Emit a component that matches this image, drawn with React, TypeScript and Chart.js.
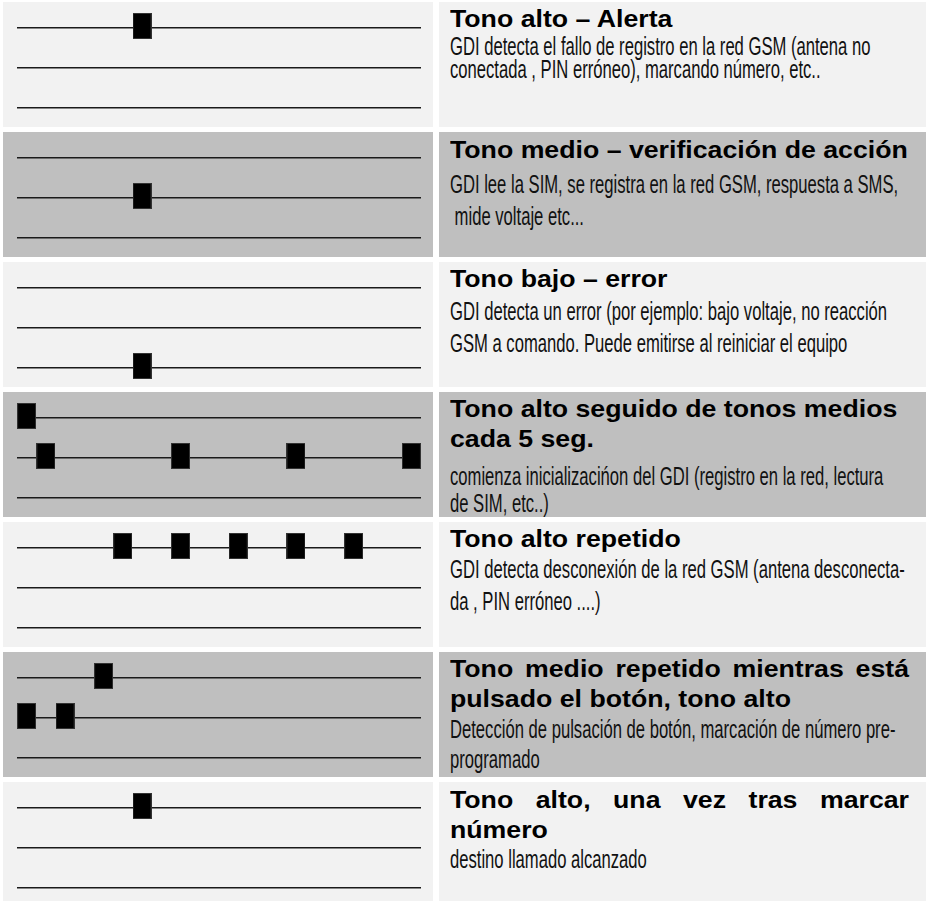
import React, { useEffect, useRef } from "react";
import { Chart, registerables } from "chart.js";

Chart.register(...registerables);

// ---- data ----
// tone levels: 1 = bajo, 2 = medio, 3 = alto
const LEVELS = [1, 2, 3];
// time slots (0..20) along each staff
const SLOT_MIN = 0;
const SLOT_MAX = 20;

const TONE_SLOTS_1 = [6];
const TONE_LEVELS_1 = [3];
const TONE_SLOTS_2 = [6];
const TONE_LEVELS_2 = [2];
const TONE_SLOTS_3 = [6];
const TONE_LEVELS_3 = [1];
const TONE_SLOTS_4 = [0, 1, 8, 14, 20];
const TONE_LEVELS_4 = [3, 2, 2, 2, 2];
const TONE_SLOTS_5 = [5, 8, 11, 14, 17];
const TONE_LEVELS_5 = [3, 3, 3, 3, 3];
const TONE_SLOTS_6 = [0, 2, 4];
const TONE_LEVELS_6 = [2, 2, 3];
const TONE_SLOTS_7 = [6];
const TONE_LEVELS_7 = [3];

const TITLES_1 = ["Tono alto – Alerta"];
const TITLES_2 = ["Tono medio – verificación de acción"];
const TITLES_3 = ["Tono bajo – error"];
const TITLES_4 = ["Tono alto seguido de tonos medios", "cada 5 seg."];
const TITLES_5 = ["Tono alto repetido"];
const TITLES_6 = ["Tono medio repetido mientras está", "pulsado el botón, tono alto"];
const TITLES_7 = ["Tono alto, una vez tras marcar", "número"];

const TEXT_1 = [
  "GDI detecta el fallo de registro en la red GSM (antena no",
  "conectada , PIN erróneo), marcando número, etc..",
];
const TEXT_2 = [
  "GDI lee la SIM, se registra en la red GSM, respuesta a SMS,",
  " mide voltaje etc...",
];
const TEXT_3 = [
  "GDI detecta un error (por ejemplo: bajo voltaje, no reacción",
  "GSM a comando. Puede emitirse al reiniciar el equipo",
];
const TEXT_4 = [
  "comienza inicializacińon del GDI (registro en la red, lectura",
  "de SIM, etc..)",
];
const TEXT_5 = [
  "GDI detecta desconexión de la red GSM (antena desconecta-",
  "da , PIN erróneo ....)",
];
const TEXT_6 = [
  "Detección de pulsación de botón, marcación de número pre-",
  "programado",
];
const TEXT_7 = ["destino llamado alcanzado"];

const ROWS = [
  { slots: TONE_SLOTS_1, levels: TONE_LEVELS_1, titles: TITLES_1, text: TEXT_1 },
  { slots: TONE_SLOTS_2, levels: TONE_LEVELS_2, titles: TITLES_2, text: TEXT_2 },
  { slots: TONE_SLOTS_3, levels: TONE_LEVELS_3, titles: TITLES_3, text: TEXT_3 },
  { slots: TONE_SLOTS_4, levels: TONE_LEVELS_4, titles: TITLES_4, text: TEXT_4 },
  { slots: TONE_SLOTS_5, levels: TONE_LEVELS_5, titles: TITLES_5, text: TEXT_5 },
  { slots: TONE_SLOTS_6, levels: TONE_LEVELS_6, titles: TITLES_6, text: TEXT_6 },
  { slots: TONE_SLOTS_7, levels: TONE_LEVELS_7, titles: TITLES_7, text: TEXT_7 },
];

// ---- layout / styles ----
const JUSTIFY_TITLE = [false, false, false, false, false, true, true];
const TITLE_BASE = [25, 26, 25, 25, 25, 25, 26];
const TITLE_PITCH = 30;
const BODY_BASE = [53, 61, 58, 93, 56, 86, 86];
const BODY_PITCH = [23, 32, 32, 27, 32, 30, 30];

const BG_LIGHT = "#f2f2f2";
const BG_DARK = "#bfbfbf";
const ROW_TOP0 = 2;
const ROW_PITCH = 130;
const ROW_H = 125;
const LEFT_X = 3;
const LEFT_W = 430;
const RIGHT_X = 439;
const RIGHT_W = 487;
const TEXT_PAD = 11;
const TEXT_W = 459;

const TITLE_SIZE = 24;
const TITLE_LH = 30;
const BODY_SIZE = 25;
const BODY_LH = 24;
const TITLE_SCALE = 1.112;
const BODY_SCALE = 0.665;

// Liberation Sans metrics: ascent .905, descent .212
const baselineOffset = (size: number, lh: number) => (lh - 1.117 * size) / 2 + 0.905 * size;

function makeSquare(): HTMLCanvasElement {
  const c = document.createElement("canvas");
  c.width = 19;
  c.height = 30;
  const ctx = c.getContext("2d")!;
  ctx.fillStyle = "#000";
  ctx.fillRect(0, 0, 19, 26);
  ctx.strokeStyle = "#333";
  ctx.lineWidth = 1;
  ctx.strokeRect(0.5, 0.5, 18, 25);
  return c;
}

function ToneChart({ slots, levels }: { slots: number[]; levels: number[] }) {
  const ref = useRef<HTMLCanvasElement | null>(null);
  useEffect(() => {
    if (!ref.current) return;
    const sq = makeSquare();
    const chart = new Chart(ref.current, {
      type: "scatter",
      data: {
        datasets: [
          {
            data: slots.map((s, j) => ({ x: s, y: levels[j] })),
            pointStyle: sq as any,
            pointRadius: 10,
            backgroundColor: "#000",
            borderColor: "#000",
            clip: false as any,
          },
        ],
      },
      options: {
        animation: false,
        responsive: false,
        events: [],
        layout: { autoPadding: false, padding: { left: 14, right: 12, top: 0, bottom: 0 } },
        plugins: { legend: { display: false }, tooltip: { enabled: false } },
        scales: {
          x: { type: "linear", min: SLOT_MIN - 0.5, max: SLOT_MAX + 0.5, display: false },
          y: {
            type: "linear",
            min: 0.525,
            max: 3.65,
            afterBuildTicks: (axis: any) => {
              axis.ticks = LEVELS.map((v) => ({ value: v }));
            },
            ticks: { display: false },
            grid: { color: "#1a1a1a", lineWidth: 1.5, drawTicks: false },
            border: { display: false },
          },
        },
      } as any,
    });
    return () => chart.destroy();
  }, [slots, levels]);
  return (
    <canvas
      ref={ref}
      width={LEFT_W}
      height={ROW_H}
      style={{ position: "absolute", left: 0, top: 0, width: LEFT_W, height: ROW_H }}
    />
  );
}

function TextLine({
  text,
  scale,
  justify,
  top,
  style,
}: {
  text: string;
  scale: number;
  justify?: boolean;
  top: number;
  style: React.CSSProperties;
}) {
  return (
    <div
      style={{
        ...style,
        position: "absolute",
        left: TEXT_PAD,
        top,
        width: TEXT_W / scale,
        transform: `scaleX(${scale})`,
        transformOrigin: "0 0",
        whiteSpace: justify ? "nowrap" : "pre",
        textAlign: justify ? "justify" : "left",
        textAlignLast: justify ? "justify" : "auto",
      } as React.CSSProperties}
    >
      {text}
    </div>
  );
}

const titleStyle: React.CSSProperties = {
  fontFamily: '"Liberation Sans", Arial, sans-serif',
  fontWeight: "bold",
  fontSize: TITLE_SIZE,
  lineHeight: TITLE_LH + "px",
  color: "#000",
};
const bodyStyle: React.CSSProperties = {
  fontFamily: '"Liberation Sans", Arial, sans-serif',
  fontSize: BODY_SIZE,
  lineHeight: BODY_LH + "px",
  color: "#111",
};

export default function App() {
  const tOff = baselineOffset(TITLE_SIZE, TITLE_LH);
  const bOff = baselineOffset(BODY_SIZE, BODY_LH);
  return (
    <div
      style={{
        position: "absolute",
        left: 0,
        top: 0,
        width: 926,
        height: 901,
        overflow: "hidden",
        background: "#fff",
      }}
    >
      {ROWS.map((row, i) => {
        const top = ROW_TOP0 + i * ROW_PITCH;
        const bg = i % 2 === 0 ? BG_LIGHT : BG_DARK;
        return (
          <React.Fragment key={i}>
            <div
              style={{
                position: "absolute",
                left: LEFT_X,
                top,
                width: LEFT_W,
                height: ROW_H,
                background: bg,
              }}
            >
              <ToneChart slots={row.slots} levels={row.levels} />
            </div>
            <div
              style={{
                position: "absolute",
                left: RIGHT_X,
                top,
                width: RIGHT_W,
                height: ROW_H,
                background: bg,
                overflow: "hidden",
              }}
            >
              {row.titles.map((t, k) => (
                <TextLine
                  key={"t" + k}
                  text={t}
                  scale={TITLE_SCALE}
                  justify={JUSTIFY_TITLE[i] && k < row.titles.length - 1}
                  top={Math.round(TITLE_BASE[i] + k * TITLE_PITCH - tOff)}
                  style={titleStyle}
                />
              ))}
              {row.text.map((t, k) => (
                <TextLine
                  key={"b" + k}
                  text={t}
                  scale={BODY_SCALE}
                  top={Math.round(BODY_BASE[i] + k * BODY_PITCH[i] - bOff)}
                  style={bodyStyle}
                />
              ))}
            </div>
          </React.Fragment>
        );
      })}
    </div>
  );
}
